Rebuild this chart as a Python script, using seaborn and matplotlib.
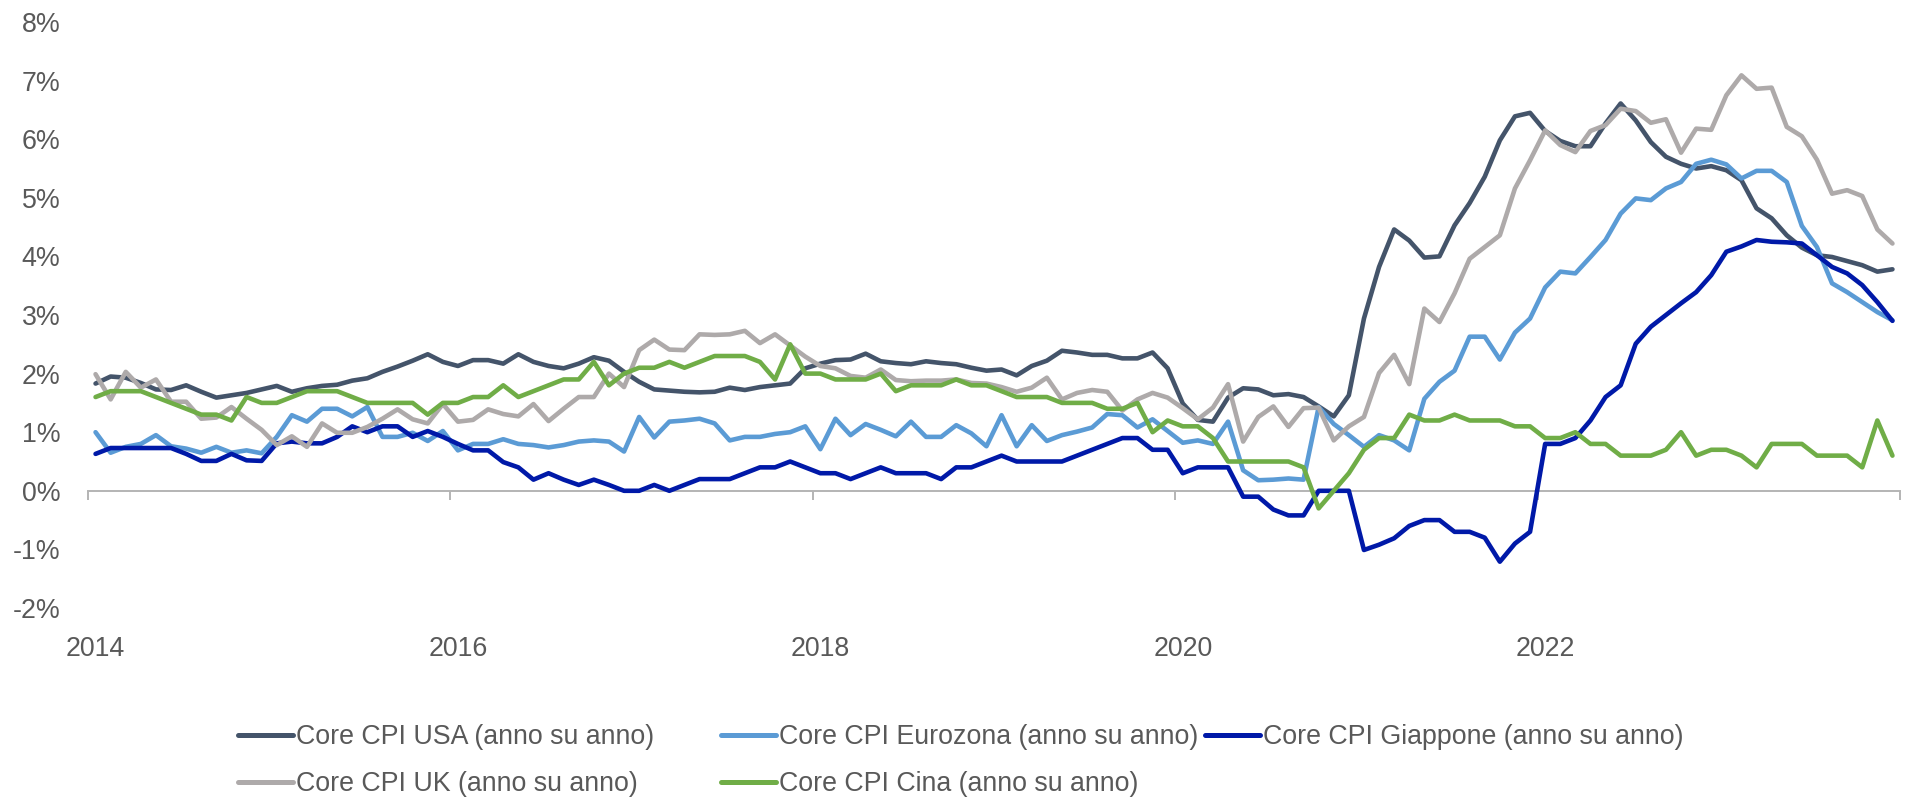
import numpy as np
import pandas as pd
import matplotlib
matplotlib.use("Agg")
import matplotlib.pyplot as plt
import seaborn as sns

# ---------------- data (monthly, 120 points) ----------------
mesi = pd.date_range("2014-01-01", periods=120, freq="MS")

usa = [1.83, 1.95, 1.93, 1.84, 1.73, 1.72, 1.80, 1.69, 1.59, 1.63, 1.67, 1.73,
       1.79, 1.69, 1.75, 1.79, 1.81, 1.88, 1.92, 2.03, 2.12, 2.22, 2.33, 2.20,
       2.13, 2.23, 2.23, 2.17, 2.33, 2.20, 2.13, 2.09, 2.17, 2.28, 2.22, 2.03,
       1.86, 1.73, 1.71, 1.69, 1.68, 1.69, 1.76, 1.72, 1.77, 1.80, 1.83, 2.09,
       2.17, 2.23, 2.24, 2.34, 2.21, 2.18, 2.16, 2.21, 2.18, 2.16, 2.10, 2.05,
       2.07, 1.97, 2.13, 2.22, 2.39, 2.36, 2.32, 2.32, 2.26, 2.26, 2.36, 2.09,
       1.49, 1.21, 1.18, 1.59, 1.75, 1.73, 1.63, 1.65, 1.60, 1.44, 1.27, 1.63,
       2.94, 3.82, 4.46, 4.27, 3.98, 4.00, 4.53, 4.91, 5.36, 5.98, 6.39, 6.45,
       6.14, 5.97, 5.88, 5.88, 6.27, 6.61, 6.32, 5.95, 5.70, 5.58, 5.50, 5.54,
       5.47, 5.30, 4.82, 4.65, 4.36, 4.15, 4.02, 3.99, 3.92, 3.85, 3.74, 3.78]

eurozona = [1.00, 0.65, 0.75, 0.80, 0.95, 0.76, 0.72, 0.65, 0.75, 0.65, 0.69, 0.64,
            0.92, 1.29, 1.18, 1.40, 1.40, 1.27, 1.43, 0.92, 0.92, 0.99, 0.85, 1.02,
            0.69, 0.80, 0.80, 0.88, 0.80, 0.78, 0.74, 0.78, 0.84, 0.86, 0.84, 0.67,
            1.26, 0.91, 1.18, 1.20, 1.23, 1.15, 0.86, 0.92, 0.92, 0.97, 1.00, 1.10,
            0.71, 1.23, 0.95, 1.14, 1.04, 0.93, 1.18, 0.92, 0.92, 1.12, 0.98, 0.76,
            1.29, 0.76, 1.12, 0.85, 0.95, 1.01, 1.08, 1.31, 1.29, 1.08, 1.22, 1.02,
            0.82, 0.86, 0.80, 1.18, 0.35, 0.18, 0.19, 0.21, 0.19, 1.43, 1.14, 0.95,
            0.75, 0.95, 0.86, 0.69, 1.57, 1.86, 2.05, 2.63, 2.63, 2.24, 2.70, 2.94,
            3.47, 3.74, 3.71, 3.99, 4.28, 4.73, 4.99, 4.96, 5.16, 5.27, 5.58, 5.65,
            5.57, 5.33, 5.46, 5.46, 5.27, 4.52, 4.16, 3.54, 3.39, 3.22, 3.05, 2.91]

giappone = [0.63, 0.73, 0.73, 0.73, 0.73, 0.73, 0.63, 0.51, 0.51, 0.63, 0.52, 0.51,
            0.81, 0.84, 0.81, 0.81, 0.92, 1.10, 1.00, 1.10, 1.10, 0.92, 1.02, 0.92,
            0.80, 0.69, 0.69, 0.49, 0.40, 0.19, 0.30, 0.19, 0.10, 0.19, 0.10, 0.00,
            0.00, 0.10, 0.00, 0.10, 0.20, 0.20, 0.20, 0.30, 0.40, 0.40, 0.50, 0.40,
            0.30, 0.30, 0.20, 0.30, 0.40, 0.30, 0.30, 0.30, 0.20, 0.40, 0.40, 0.50,
            0.60, 0.50, 0.50, 0.50, 0.50, 0.60, 0.70, 0.80, 0.90, 0.90, 0.70, 0.70,
            0.30, 0.40, 0.40, 0.40, -0.10, -0.10, -0.32, -0.42, -0.42, 0.00, 0.00, 0.00,
            -1.01, -0.92, -0.81, -0.60, -0.50, -0.50, -0.70, -0.70, -0.80, -1.21, -0.90, -0.70,
            0.80, 0.80, 0.90, 1.20, 1.60, 1.80, 2.51, 2.80, 3.00, 3.20, 3.39, 3.68,
            4.08, 4.17, 4.28, 4.25, 4.24, 4.22, 4.02, 3.82, 3.71, 3.51, 3.22, 2.90]

uk = [1.99, 1.56, 2.03, 1.76, 1.90, 1.52, 1.52, 1.23, 1.25, 1.43, 1.23, 1.04,
      0.78, 0.93, 0.75, 1.15, 0.99, 0.99, 1.09, 1.23, 1.39, 1.22, 1.15, 1.48,
      1.18, 1.21, 1.39, 1.31, 1.27, 1.48, 1.19, 1.40, 1.60, 1.60, 2.00, 1.77,
      2.40, 2.58, 2.41, 2.40, 2.67, 2.66, 2.67, 2.73, 2.52, 2.67, 2.48, 2.29,
      2.13, 2.09, 1.96, 1.93, 2.07, 1.89, 1.87, 1.88, 1.88, 1.90, 1.84, 1.83,
      1.77, 1.69, 1.76, 1.93, 1.56, 1.67, 1.72, 1.69, 1.37, 1.56, 1.67, 1.59,
      1.41, 1.22, 1.42, 1.82, 0.84, 1.26, 1.44, 1.09, 1.41, 1.42, 0.86, 1.10,
      1.26, 2.01, 2.32, 1.82, 3.11, 2.88, 3.37, 3.96, 4.16, 4.36, 5.16, 5.64,
      6.15, 5.90, 5.78, 6.14, 6.24, 6.52, 6.48, 6.28, 6.34, 5.77, 6.18, 6.16,
      6.75, 7.09, 6.86, 6.88, 6.21, 6.05, 5.65, 5.07, 5.13, 5.03, 4.46, 4.22]

cina = [1.6, 1.7, 1.7, 1.7, 1.6, 1.5, 1.4, 1.3, 1.3, 1.2, 1.6, 1.5,
        1.5, 1.6, 1.7, 1.7, 1.7, 1.6, 1.5, 1.5, 1.5, 1.5, 1.3, 1.5,
        1.5, 1.6, 1.6, 1.8, 1.6, 1.7, 1.8, 1.9, 1.9, 2.2, 1.8, 2.0,
        2.1, 2.1, 2.2, 2.1, 2.2, 2.3, 2.3, 2.3, 2.2, 1.9, 2.5, 2.0,
        2.0, 1.9, 1.9, 1.9, 2.0, 1.7, 1.8, 1.8, 1.8, 1.9, 1.8, 1.8,
        1.7, 1.6, 1.6, 1.6, 1.5, 1.5, 1.5, 1.4, 1.4, 1.5, 1.0, 1.2,
        1.1, 1.1, 0.9, 0.5, 0.5, 0.5, 0.5, 0.5, 0.4, -0.3, 0.0, 0.3,
        0.7, 0.9, 0.9, 1.3, 1.2, 1.2, 1.3, 1.2, 1.2, 1.2, 1.1, 1.1,
        0.9, 0.9, 1.0, 0.8, 0.8, 0.6, 0.6, 0.6, 0.7, 1.0, 0.6, 0.7,
        0.7, 0.6, 0.4, 0.8, 0.8, 0.8, 0.6, 0.6, 0.6, 0.4, 1.2, 0.6]

serie_nomi = ["Core CPI USA (anno su anno)",
              "Core CPI Eurozona (anno su anno)",
              "Core CPI Giappone (anno su anno)",
              "Core CPI UK (anno su anno)",
              "Core CPI Cina (anno su anno)"]
serie_valori = [usa, eurozona, giappone, uk, cina]
colori = ["#44546A", "#5B9BD5", "#0019A8", "#AEAAAA", "#70AD47"]

anni_etichette = ["2014", "2016", "2018", "2020", "2022"]
y_valori = [-2, -1, 0, 1, 2, 3, 4, 5, 6, 7, 8]

# ---------------- build long table ----------------
xpos = mesi.year + (mesi.month - 0.5) / 12.0
df = pd.concat([pd.DataFrame({"x": xpos, "valore": v, "serie": n})
                for n, v in zip(serie_nomi, serie_valori)], ignore_index=True)

sns.set_theme(style="white")
plt.rcParams["font.family"] = ["Liberation Sans", "DejaVu Sans"]

TXT = "#595959"
GRIGIO = "#B4B4B4"
W, H = 1905, 800
FS = 19.3

fig = plt.figure(figsize=(W / 100, H / 100), dpi=100)
ax = fig.add_axes([88 / W, 1 - 608 / H, 1812 / W, 586 / H])

sns.lineplot(data=df, x="x", y="valore", hue="serie", hue_order=serie_nomi,
             palette=dict(zip(serie_nomi, colori)), linewidth=3.3,
             estimator=None, errorbar=None, ax=ax, legend="brief")
for ln in ax.get_lines():
    ln.set_solid_joinstyle("round")
    ln.set_solid_capstyle("round")

handles, labels = ax.get_legend_handles_labels()
ax.get_legend().remove()
hd = dict(zip(labels, handles))

ymin, ymax = y_valori[0], y_valori[-1]
ax.set_xlim(2014, 2024)
ax.set_ylim(ymin, ymax)
for s in ax.spines.values():
    s.set_visible(False)

ax.set_yticks(y_valori, [f"{v}%" for v in y_valori])
ax.set_xticks([int(a) + 0.5 / 12 for a in anni_etichette], anni_etichette)
ax.tick_params(axis="y", length=0, pad=20, labelsize=FS, labelcolor=TXT)
ax.tick_params(axis="x", length=0, pad=20, labelsize=FS, labelcolor=TXT)
ax.set_xlabel("")
ax.set_ylabel("")
ax.grid(False)

# zero axis line with year tick marks
zero_loc = (0 - ymin) / (ymax - ymin)
sec = ax.secondary_xaxis(zero_loc)
sec.set_xticks(list(range(2014, 2025, 2)))
sec.tick_params(axis="x", direction="out", length=6.5, width=1.4, color=GRIGIO,
                labelbottom=False, labeltop=False)
sec.spines["bottom"].set_color(GRIGIO)
sec.spines["bottom"].set_linewidth(1.4)
sec.spines["top"].set_visible(False)
sec.set_zorder(0.5)

# legend: three fixed-width columns
colonne = [(238, [serie_nomi[0], serie_nomi[3]]),
           (721, [serie_nomi[1], serie_nomi[4]]),
           (1205, [serie_nomi[2]])]
for x0, nomi in colonne:
    leg = fig.legend([hd[n] for n in nomi], nomi, loc="upper left",
                     bbox_to_anchor=(x0 / W, 1 - 724 / H), bbox_transform=fig.transFigure,
                     frameon=False, borderpad=0, borderaxespad=0,
                     handlelength=2.05, handletextpad=0.12, labelspacing=0.78,
                     fontsize=FS, labelcolor=TXT)
    for lh in leg.get_lines():
        lh.set_linewidth(3.6)

fig.savefig("out.png", dpi=100, facecolor="white")
